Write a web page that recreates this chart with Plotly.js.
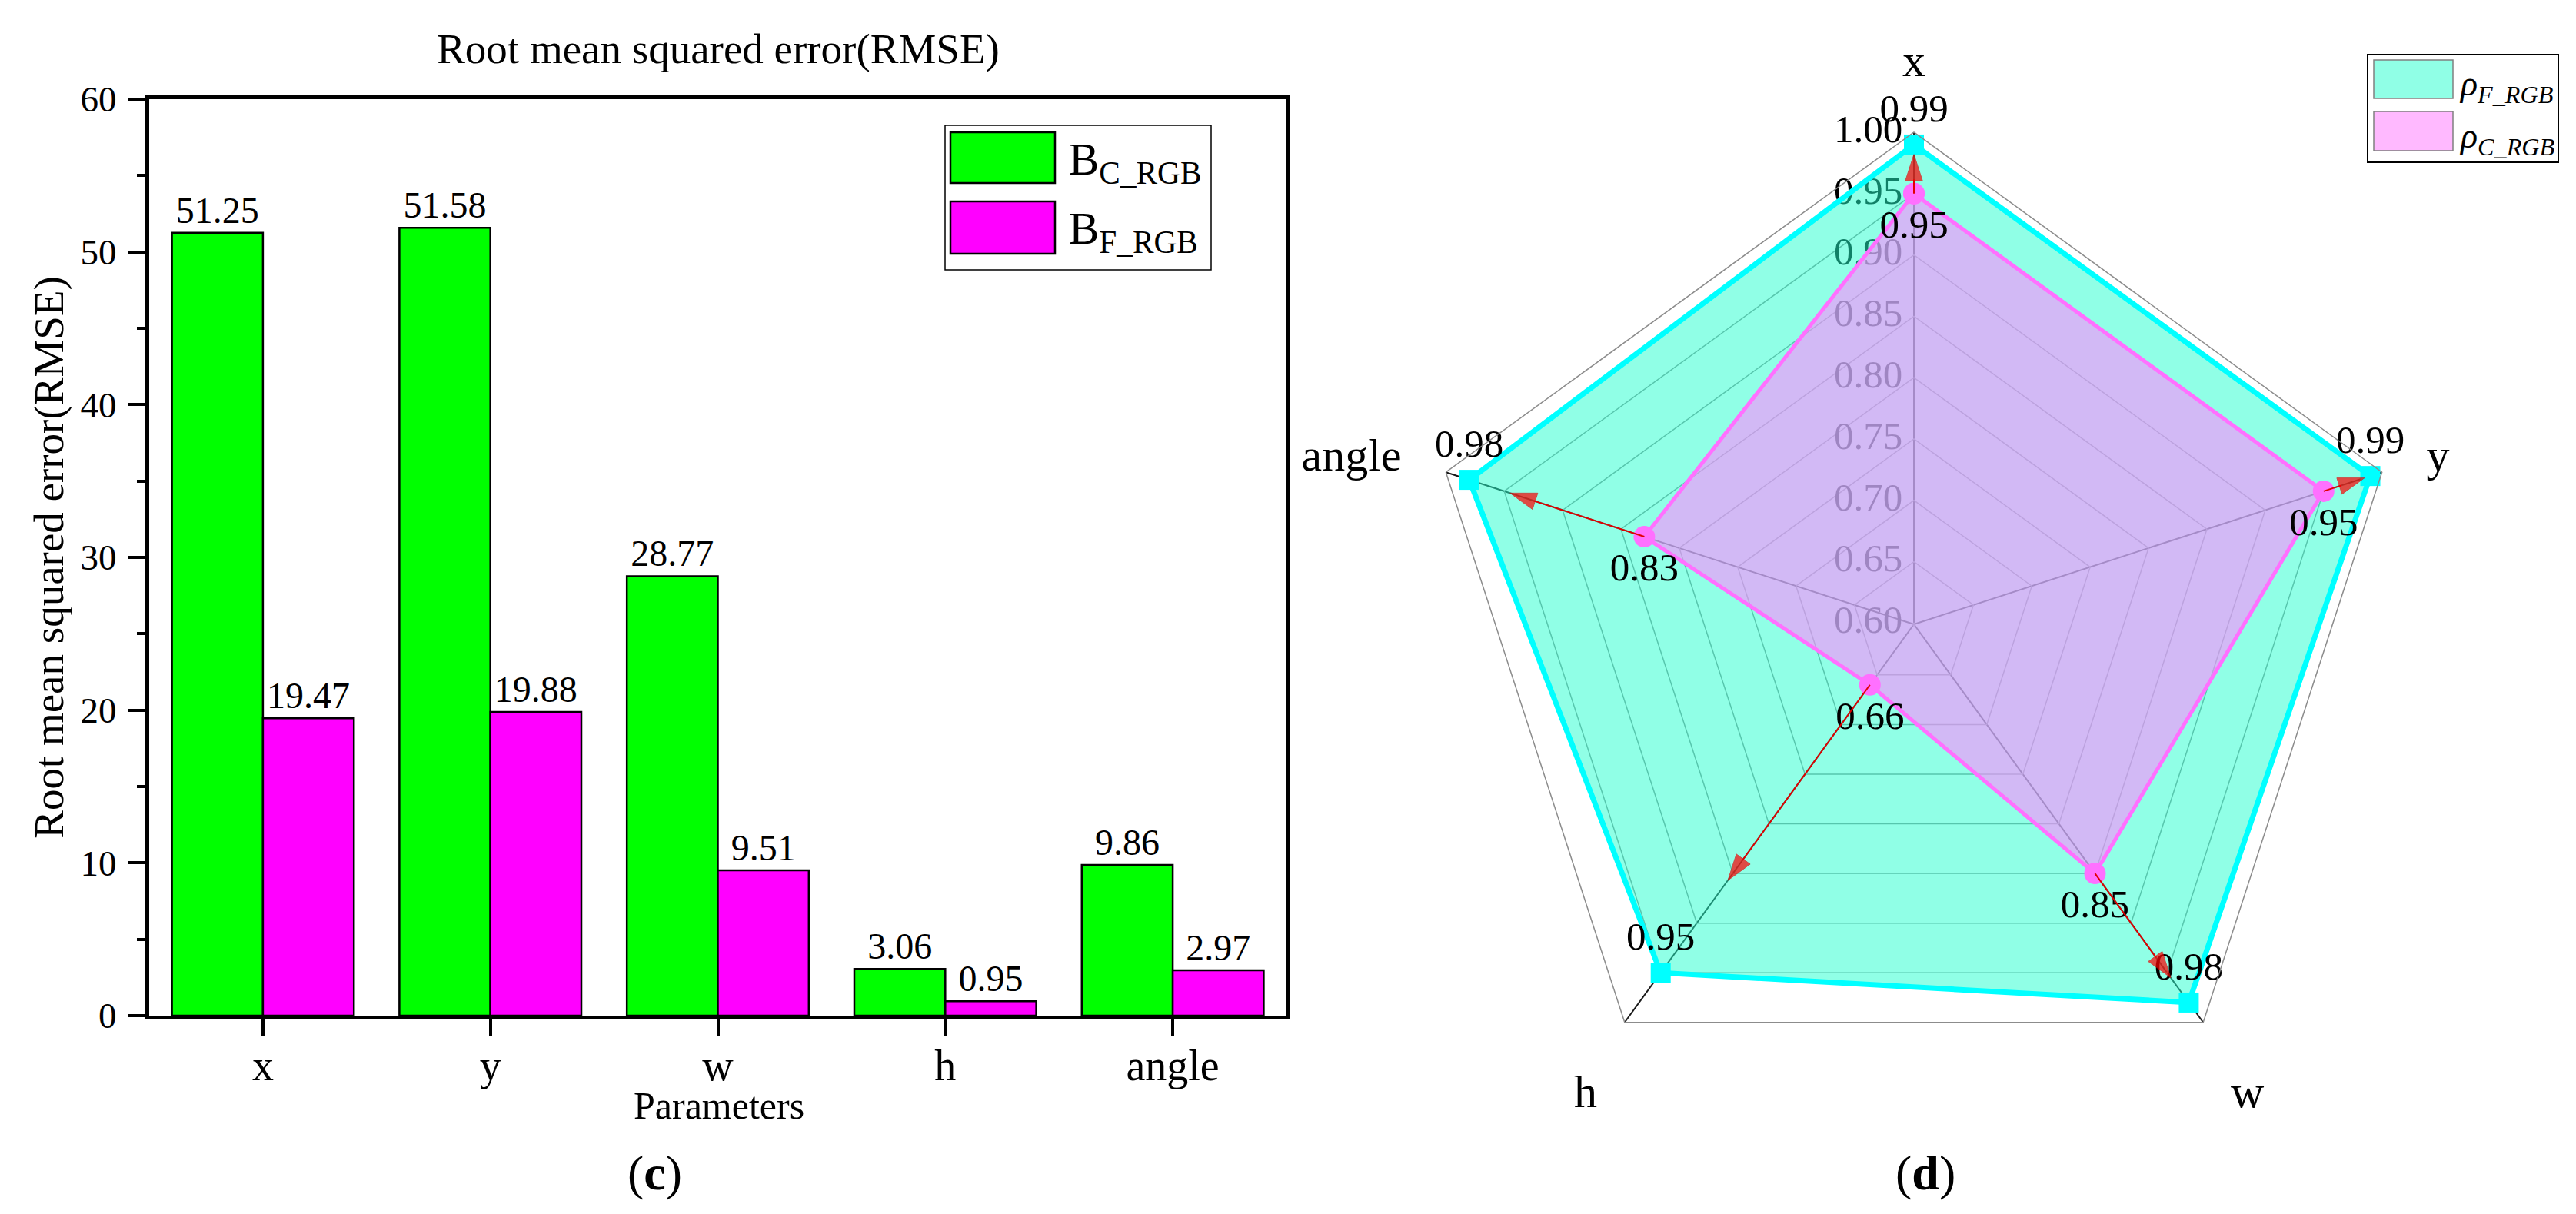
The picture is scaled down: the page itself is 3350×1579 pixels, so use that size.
<!DOCTYPE html>
<html>
<head>
<meta charset="utf-8">
<script src="https://cdn.plot.ly/plotly-3.0.1.min.js"></script>
<style>html,body{margin:0;padding:0;background:#fff}#chart{width:3350px;height:1579px}</style>
</head>
<body>
<div id="chart"></div>
<script>
// ---------- Bar chart (c) data ----------
const params = ['x', 'y', 'w', 'h', 'angle'];
const rmseC = [51.25, 51.58, 28.77, 3.06, 9.86];   // B_C_RGB
const rmseF = [19.47, 19.88, 9.51, 0.95, 2.97];    // B_F_RGB

// ---------- Radar chart (d) data ----------
const radarAxes = ['x', 'y', 'w', 'h', 'angle'];
const rhoF = [0.99, 0.99, 0.98, 0.95, 0.98];       // rho_F_RGB
const rhoC = [0.95, 0.95, 0.85, 0.66, 0.83];       // rho_C_RGB
const arrowEnd = [0.982, 0.985, 0.955, 0.857, 0.945];
const radialTicks = [0.60, 0.65, 0.70, 0.75, 0.80, 0.85, 0.90, 0.95, 1.00];
const radialTickText = ['0.60', '0.65', '0.70', '0.75', '0.80', '0.85', '0.90', '0.95', '1.00'];

const W = 3350, H = 1579;
const px = x => x / W;
const py = y => 1 - y / H;
const close = a => a.concat([a[0]]);
const FONT = 'Liberation Serif, Times New Roman, serif';

const data = [];

data.push({
  type: 'bar', x: params, y: rmseC, name: 'B_C_RGB',
  marker: {color: '#00ff00', line: {color: '#000', width: 2.5}},
  texttemplate: '%{y:.2f}', textposition: 'outside', cliponaxis: false, constraintext: 'none',
  textfont: {size: 48, color: '#000', family: FONT}, xaxis: 'x', yaxis: 'y', hoverinfo: 'skip'
});
data.push({
  type: 'bar', x: params, y: rmseF, name: 'B_F_RGB',
  marker: {color: '#ff00ff', line: {color: '#000', width: 2.5}},
  texttemplate: '%{y:.2f}', textposition: 'outside', cliponaxis: false, constraintext: 'none',
  textfont: {size: 48, color: '#000', family: FONT}, xaxis: 'x', yaxis: 'y', hoverinfo: 'skip'
});

// radial tick labels, drawn beneath the fills
data.push({
  type: 'scatterpolar', subplot: 'polar', mode: 'markers+text',
  r: radialTicks, theta: radialTicks.map(() => radarAxes[0]),
  text: radialTickText, textposition: 'middle left',
  textfont: {size: 51, color: '#000', family: FONT},
  marker: {size: 22, opacity: 0}, hoverinfo: 'skip', showlegend: false
});

data.push({
  type: 'scatterpolar', subplot: 'polar', name: 'rho_F_RGB',
  mode: 'lines+markers+text',
  r: close(rhoF), theta: close(radarAxes),
  fill: 'toself', fillcolor: 'rgba(33,255,205,0.5)',
  line: {color: '#00ffff', width: 7},
  marker: {symbol: 'square', size: 26, color: '#00ffff'},
  text: rhoF.map(v => v.toFixed(2)).concat(['']), textposition: 'top center',
  textfont: {size: 51, color: '#000', family: FONT}, hoverinfo: 'skip'
});

data.push({
  type: 'scatterpolar', subplot: 'polar', name: 'rho_C_RGB',
  mode: 'lines+markers+text',
  r: close(rhoC), theta: close(radarAxes),
  fill: 'toself', fillcolor: 'rgba(255,138,255,0.6)',
  line: {color: '#ff70ff', width: 5},
  marker: {symbol: 'circle', size: 28, color: '#ff70ff'},
  text: rhoC.map(v => v.toFixed(2)).concat(['']), textposition: 'bottom center',
  textfont: {size: 51, color: '#000', family: FONT}, hoverinfo: 'skip'
});

radarAxes.forEach((cat, i) => {
  data.push({
    type: 'scatterpolar', subplot: 'polar', mode: 'lines+markers',
    r: [rhoC[i], arrowEnd[i]], theta: [cat, cat],
    line: {color: '#e00000', width: 2},
    marker: {symbol: ['circle', 'arrow'], size: [0, 36], color: '#ff0000', angleref: 'previous'},
    hoverinfo: 'skip', showlegend: false
  });
});

const layout = {
  width: W, height: H,
  margin: {l: 0, r: 0, t: 0, b: 0, pad: 0},
  paper_bgcolor: '#fff', plot_bgcolor: '#fff',
  font: {family: FONT, color: '#000', size: 48},
  showlegend: false,
  title: {text: 'Root mean squared error(RMSE)', font: {size: 55, family: FONT, color: '#000'},
          x: px(934), xref: 'container', xanchor: 'center', y: py(63), yref: 'container', yanchor: 'middle'},
  barmode: 'group', bargap: 0.2, bargroupgap: 0,
  xaxis: {
    domain: [px(194), px(1673)], anchor: 'y', type: 'category',
    categoryorder: 'array', categoryarray: params, range: [-0.5, 4.5],
    ticks: 'outside', ticklen: 22, tickwidth: 4, tickcolor: '#000',
    showline: true, linewidth: 5, linecolor: '#000', mirror: true,
    showgrid: false, zeroline: false, tickfont: {size: 56}, ticklabelstandoff: -10
  },
  xaxis2: {
    overlaying: 'x', anchor: 'y', range: [-0.5, 4.5], tickmode: 'linear', tick0: -0.5, dtick: 1,
    ticks: 'outside', ticklen: 11, tickwidth: 4, tickcolor: '#000', showticklabels: false,
    showgrid: false, zeroline: false, showline: false, side: 'bottom'
  },
  yaxis: {
    domain: [py(1321), py(129)], anchor: 'x', range: [0, 60],
    tickmode: 'linear', tick0: 0, dtick: 10,
    ticks: 'outside', ticklen: 23, tickwidth: 4, tickcolor: '#000',
    showline: true, linewidth: 5, linecolor: '#000', mirror: true,
    showgrid: false, zeroline: false, tickfont: {size: 47}, ticklabelstandoff: 5,
    minor: {tickmode: 'linear', tick0: 0, dtick: 5, ticks: 'outside', ticklen: 11, tickwidth: 4, tickcolor: '#000', showgrid: false},
    title: {text: 'Root mean squared error(RMSE)', font: {size: 55}, standoff: 6}
  },
  polar: {
    domain: {x: [px(1849), px(3129)], y: [py(1452), py(172)]},
    bgcolor: '#fff', gridshape: 'linear',
    angularaxis: {
      direction: 'clockwise', rotation: 90, type: 'category',
      categoryorder: 'array', categoryarray: radarAxes,
      showline: true, linecolor: '#8c8c8c', linewidth: 1.5,
      showgrid: true, gridcolor: '#1a1a1a', gridwidth: 2,
      ticks: 'outside', ticklen: 48, tickcolor: 'rgba(0,0,0,0)',
      tickfont: {size: 60, family: FONT, color: '#000'}
    },
    radialaxis: {
      range: [0.599, 1.0], tickvals: radialTicks, showticklabels: false, ticks: '',
      showline: false, showgrid: true, gridcolor: '#8c8c8c', gridwidth: 1.5, angle: 90
    }
  },
  shapes: [
    // legend (c)
    {type: 'rect', xref: 'paper', yref: 'paper', x0: px(1229), x1: px(1575), y0: py(351), y1: py(163), line: {color: '#000', width: 1.5}},
    {type: 'rect', xref: 'paper', yref: 'paper', x0: px(1236), x1: px(1372), y0: py(238), y1: py(172), fillcolor: '#00ff00', line: {color: '#000', width: 2.5}},
    {type: 'rect', xref: 'paper', yref: 'paper', x0: px(1236), x1: px(1372), y0: py(330), y1: py(262), fillcolor: '#ff00ff', line: {color: '#000', width: 2.5}},
    // legend (d)
    {type: 'rect', xref: 'paper', yref: 'paper', x0: px(3079), x1: px(3327), y0: py(211), y1: py(71), line: {color: '#000', width: 2}},
    {type: 'rect', xref: 'paper', yref: 'paper', x0: px(3087), x1: px(3190), y0: py(128), y1: py(78), fillcolor: '#90ffe6', line: {color: '#808080', width: 1.5}},
    {type: 'rect', xref: 'paper', yref: 'paper', x0: px(3087), x1: px(3190), y0: py(196), y1: py(145), fillcolor: '#ffb9ff', line: {color: '#808080', width: 1.5}}
  ],
  annotations: [
    {text: 'Parameters', xref: 'paper', yref: 'paper', x: px(935), y: py(1438), xanchor: 'center', yanchor: 'middle', showarrow: false, font: {size: 50}},
    {text: 'B<sub>C_RGB</sub>', xref: 'paper', yref: 'paper', x: px(1388), y: py(211), xanchor: 'left', yanchor: 'middle', showarrow: false, font: {size: 59}},
    {text: 'B<sub>F_RGB</sub>', xref: 'paper', yref: 'paper', x: px(1388), y: py(301), xanchor: 'left', yanchor: 'middle', showarrow: false, font: {size: 59}},
    {text: '<i>ρ<sub>F_RGB</sub></i>', xref: 'paper', yref: 'paper', x: px(3196), y: py(112), xanchor: 'left', yanchor: 'middle', showarrow: false, font: {size: 46}},
    {text: '<i>ρ<sub>C_RGB</sub></i>', xref: 'paper', yref: 'paper', x: px(3196), y: py(180), xanchor: 'left', yanchor: 'middle', showarrow: false, font: {size: 46}},
    {text: '(<b>c</b>)', xref: 'paper', yref: 'paper', x: px(851), y: py(1525), xanchor: 'center', yanchor: 'middle', showarrow: false, font: {size: 64}},
    {text: '(<b>d</b>)', xref: 'paper', yref: 'paper', x: px(2504), y: py(1525), xanchor: 'center', yanchor: 'middle', showarrow: false, font: {size: 64}}
  ]
};

Plotly.newPlot('chart', data, layout, {staticPlot: true, displayModeBar: false});
</script>
</body>
</html>
